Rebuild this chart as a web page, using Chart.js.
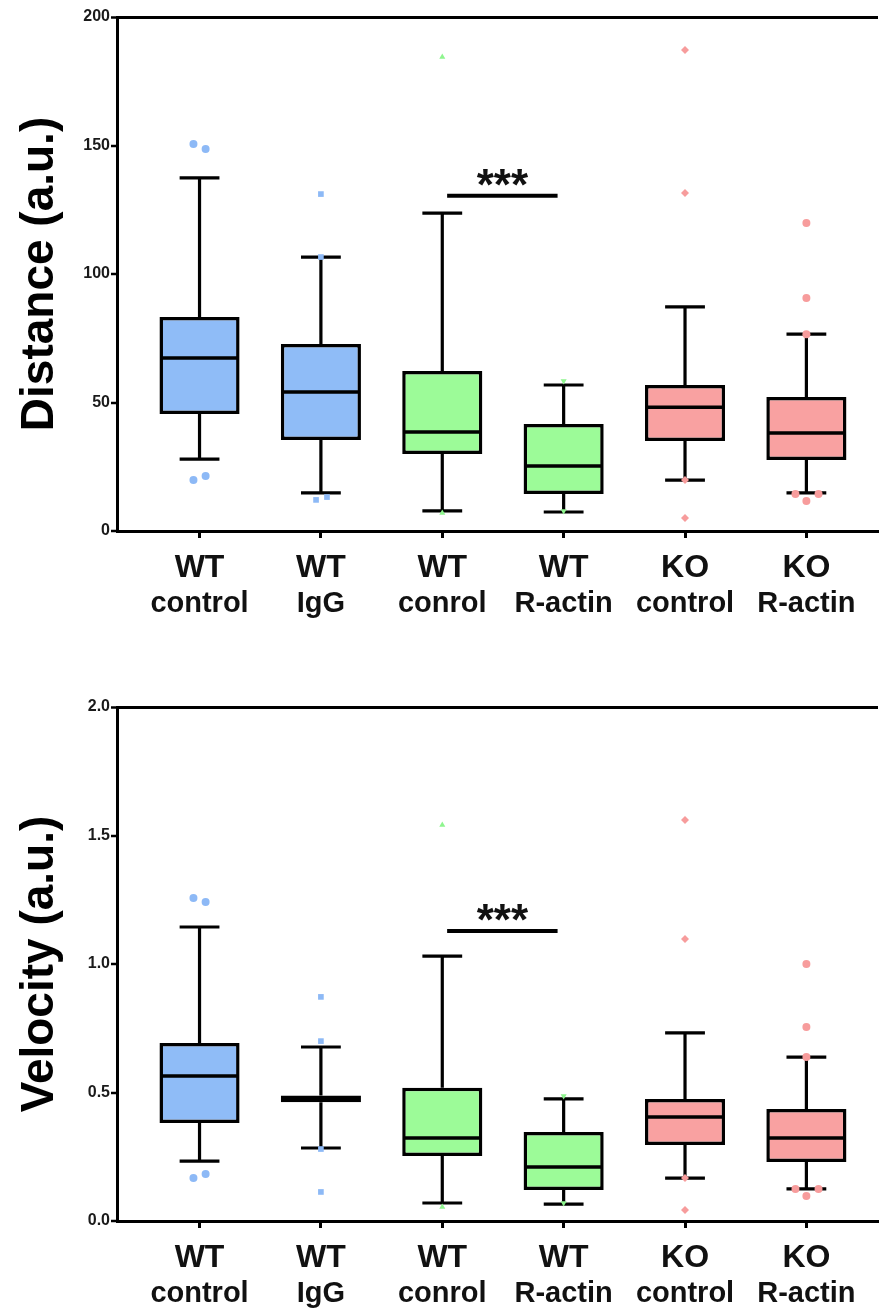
<!DOCTYPE html>
<html>
<head>
<meta charset="utf-8">
<script src="https://cdn.jsdelivr.net/npm/chart.js@4.4.1/dist/chart.umd.min.js"></script>
<style>
body { margin: 0; background: #ffffff; }
#wrap { position: relative; width: 882px; height: 1309px; overflow: hidden; }
#distanceChart { position: absolute; left: 0; top: 0; }
#velocityChart { position: absolute; left: 0; top: 690px; }
</style>
</head>
<body>
<div id="wrap">
<canvas id="distanceChart" width="882" height="690"></canvas>
<canvas id="velocityChart" width="882" height="619"></canvas>
</div>
<script>
var group_top = ["WT", "WT", "WT", "WT", "KO", "KO"];
var group_sub = ["control", "IgG", "conrol", "R-actin", "control", "R-actin"];

// Distance (a.u.)
var dist_ticks = [0, 50, 100, 150, 200];
var dist_min = [28.0, 14.8, 7.8, 7.4, 19.8, 14.8];
var dist_q1 = [45.5, 35.4, 30.0, 14.4, 35.0, 27.6];
var dist_med = [67.3, 54.1, 38.5, 25.3, 48.2, 38.1];
var dist_q3 = [83.3, 72.8, 62.3, 41.6, 56.8, 52.1];
var dist_max = [137.4, 106.6, 123.7, 56.8, 87.2, 76.6];
var dist_out_grp = [0, 0, 0, 0, 1, 1, 1, 1, 2, 2, 3, 3, 4, 4, 4, 4, 5, 5, 5, 5, 5, 5];
var dist_out_val = [150.6, 148.6, 19.8, 21.4, 131.1, 106.6, 12.1, 13.2, 184.4, 7.0, 58.4, 7.8, 187.2, 131.5, 19.8, 5.1, 119.8, 90.7, 76.6, 14.4, 14.4, 11.7];
var dist_out_jit = [-0.05, 0.05, -0.05, 0.05, 0, 0, -0.04, 0.05, 0, 0, 0, 0, 0, 0, 0, 0, 0, 0, 0, -0.09, 0.10, 0];
var dist_sig_x = [2.04, 2.95];
var dist_sig_y = 130.4;

// Velocity (a.u.)
var vel_ticks = [0, 0.5, 1.0, 1.5, 2.0];
var vel_min = [0.233, 0.284, 0.070, 0.066, 0.167, 0.125];
var vel_q1 = [0.381, 0.462, 0.253, 0.121, 0.296, 0.230];
var vel_med = [0.564, 0.475, 0.323, 0.210, 0.405, 0.323];
var vel_q3 = [0.693, 0.488, 0.518, 0.346, 0.475, 0.436];
var vel_max = [1.144, 0.677, 1.031, 0.475, 0.732, 0.638];
var vel_out_grp = [0, 0, 0, 0, 1, 1, 1, 1, 2, 2, 3, 3, 4, 4, 4, 4, 5, 5, 5, 5, 5, 5];
var vel_out_val = [1.257, 1.241, 0.167, 0.183, 0.872, 0.700, 0.280, 0.113, 1.541, 0.054, 0.486, 0.070, 1.560, 1.097, 0.167, 0.043, 1.000, 0.755, 0.638, 0.125, 0.125, 0.097];
var vel_out_jit = [-0.05, 0.05, -0.05, 0.05, 0, 0, 0, 0, 0, 0, 0, 0, 0, 0, 0, 0, 0, 0, 0, -0.09, 0.10, 0];
var vel_sig_x = [2.04, 2.95];
var vel_sig_y = 1.128;

var box_fill = ['#8fbcf7', '#8fbcf7', '#9cfb98', '#9cfb98', '#f9a1a1', '#f9a1a1'];
var out_color = ['#8db9f6', '#8db9f6', '#8ef58e', '#8ef58e', '#f79c9c', '#f79c9c'];
var out_style = ['circle', 'rect', 'triangle', 'triangle', 'rectRot', 'circle'];
var out_rot = [0, 0, 0, 180, 0, 0];
var font_family = '"Liberation Sans", Arial, Helvetica, sans-serif';

Chart.defaults.font.family = font_family;

var cap_half = 0.164;
var med_half = 0.315;

function build_datasets(mins, q1s, meds, q3s, maxs, outGrp, outVal, outJit, sigX, sigY) {
    var boxes = [];
    var whiskers = [];
    var medians = [];
    var i = 0;
    while (i < mins.length) {
        boxes.push({x: i, y: [q1s[i], q3s[i]]});
        whiskers.push({x: i, y: q3s[i]}, {x: i, y: maxs[i]}, {x: i, y: null});
        whiskers.push({x: i, y: q1s[i]}, {x: i, y: mins[i]}, {x: i, y: null});
        whiskers.push({x: i - cap_half, y: maxs[i]}, {x: i + cap_half, y: maxs[i]}, {x: i, y: null});
        whiskers.push({x: i - cap_half, y: mins[i]}, {x: i + cap_half, y: mins[i]}, {x: i, y: null});
        medians.push({x: i - med_half, y: meds[i]}, {x: i + med_half, y: meds[i]}, {x: i, y: null});
        i = i + 1;
    }
    var sets = [
        {
            type: 'bar',
            data: boxes,
            backgroundColor: box_fill,
            borderColor: '#000000',
            borderWidth: 3.5,
            borderSkipped: false,
            categoryPercentage: 1.0,
            barPercentage: 0.66,
            order: 4
        },
        {
            type: 'line',
            data: whiskers,
            borderColor: '#000000',
            borderWidth: 3.2,
            pointRadius: 0,
            spanGaps: false,
            order: 3
        },
        {
            type: 'line',
            data: medians,
            borderColor: '#000000',
            borderWidth: 3.5,
            pointRadius: 0,
            spanGaps: false,
            order: 2
        },
        {
            type: 'line',
            data: [{x: sigX[0], y: sigY}, {x: sigX[1], y: sigY}],
            borderColor: '#000000',
            borderWidth: 4,
            pointRadius: 0,
            order: 2
        }
    ];
    var g = 0;
    while (g < mins.length) {
        var pts = [];
        var k = 0;
        while (k < outGrp.length) {
            if (outGrp[k] == g) {
                pts.push({x: g + outJit[k], y: outVal[k]});
            }
            k = k + 1;
        }
        sets.push({
            type: 'scatter',
            data: pts,
            pointStyle: out_style[g],
            rotation: out_rot[g],
            pointRadius: out_style[g] == 'triangle' ? 3.5 : 4,
            backgroundColor: out_color[g],
            borderColor: out_color[g],
            borderWidth: 0,
            order: 1
        });
        g = g + 1;
    }
    return sets;
}

var labels_plugin = {
    id: 'groupLabels',
    afterDraw: function(chart) {
        var ctx = chart.ctx;
        var xs = chart.scales.x;
        var ys = chart.scales.y;
        var bottom = chart.chartArea.bottom;
        ctx.save();
        ctx.fillStyle = '#111111';
        ctx.textAlign = 'center';
        ctx.textBaseline = 'alphabetic';
        var i = 0;
        while (i < group_top.length) {
            var px = xs.getPixelForValue(i);
            ctx.font = 'bold 32px ' + font_family;
            ctx.fillText(group_top[i], px, bottom + 46);
            ctx.font = 'bold 29px ' + font_family;
            ctx.fillText(group_sub[i], px, bottom + 81);
            i = i + 1;
        }
        var sig = chart.options.plugins.groupLabels;
        ctx.font = 'bold 44px ' + font_family;
        ctx.fillText('***', xs.getPixelForValue((sig.x[0] + sig.x[1]) / 2), ys.getPixelForValue(sig.y) + 4);
        ctx.restore();
    }
};

function make_chart(id, sets, ticks, title, canvasH, decimals, sigX, sigY) {
    var ctx = document.getElementById(id).getContext('2d');
    return new Chart(ctx, {
        type: 'bar',
        data: {datasets: sets},
        plugins: [labels_plugin],
        options: {
            responsive: false,
            animation: false,
            devicePixelRatio: 1,
            layout: {padding: {top: 17, left: 0, right: 0, bottom: 0}},
            plugins: {
                legend: {display: false},
                tooltip: {enabled: false},
                groupLabels: {x: sigX, y: sigY}
            },
            scales: {
                x: {
                    type: 'linear',
                    min: -0.68,
                    max: 5.59,
                    offset: false,
                    afterBuildTicks: function(scale) {
                        scale.ticks = group_top.map(function(v, i) { return {value: i}; });
                    },
                    afterFit: function(scale) { scale.height = canvasH - 531; },
                    ticks: {display: false},
                    grid: {
                        offset: false,
                        drawOnChartArea: false,
                        drawTicks: true,
                        tickLength: 7,
                        tickWidth: 3,
                        tickColor: '#000000'
                    },
                    border: {color: '#000000', width: 3}
                },
                y: {
                    type: 'linear',
                    min: ticks[0],
                    max: ticks[ticks.length - 1],
                    afterBuildTicks: function(scale) {
                        scale.ticks = ticks.map(function(v) { return {value: v}; });
                    },
                    afterFit: function(scale) { scale.width = 117; },
                    ticks: {
                        color: '#1a1a1a',
                        padding: 1,
                        font: {size: 16, weight: 'bold'},
                        callback: function(v) { return decimals ? Number(v).toFixed(decimals) : String(v); }
                    },
                    grid: {
                        drawOnChartArea: true,
                        color: function(c) { return (c.tick && c.tick.value == ticks[ticks.length - 1]) ? '#000000' : 'rgba(0,0,0,0)'; },
                        lineWidth: function(c) { return (c.tick && c.tick.value == ticks[ticks.length - 1]) ? 3 : 0; },
                        tickLength: 6,
                        tickWidth: 2.5,
                        tickColor: '#000000'
                    },
                    border: {color: '#000000', width: 3},
                    title: {
                        display: true,
                        text: title,
                        color: '#000000',
                        font: {size: 46, weight: 'bold', lineHeight: 1.2},
                        padding: {top: 13, bottom: 0}
                    }
                }
            }
        }
    });
}

make_chart('distanceChart',
    build_datasets(dist_min, dist_q1, dist_med, dist_q3, dist_max, dist_out_grp, dist_out_val, dist_out_jit, dist_sig_x, dist_sig_y),
    dist_ticks, 'Distance (a.u.)', 690, 0, dist_sig_x, dist_sig_y);

make_chart('velocityChart',
    build_datasets(vel_min, vel_q1, vel_med, vel_q3, vel_max, vel_out_grp, vel_out_val, vel_out_jit, vel_sig_x, vel_sig_y),
    vel_ticks, 'Velocity (a.u.)', 619, 1, vel_sig_x, vel_sig_y);
</script>
</body>
</html>
